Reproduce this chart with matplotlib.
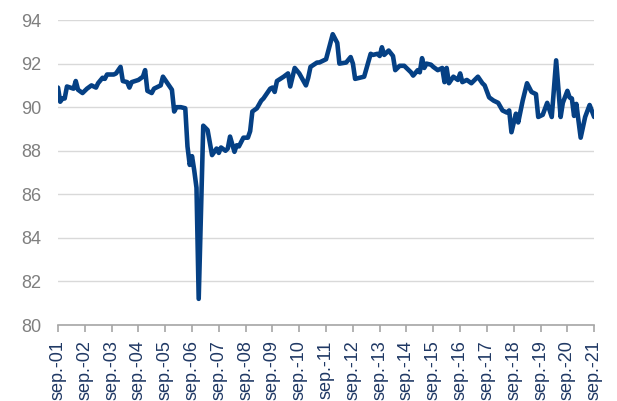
import pandas as pd
import numpy as np
import matplotlib
matplotlib.use("Agg")
import matplotlib.pyplot as plt
import matplotlib.dates as mdates

# months after sep-2001 and the value read at that month
months = [0, 1, 2, 3, 4, 7, 8, 9, 11, 13, 15, 17, 18, 20, 21, 22, 25, 26, 28,
          29, 31, 32, 33, 36, 38, 39, 40, 42, 43, 46, 47, 49, 51, 52, 53, 55,
          57, 58, 59, 60, 61, 62, 63, 65, 67, 69, 71, 72, 73, 75, 76, 77, 79,
          80, 81, 83, 85, 86, 87, 89, 91, 92, 94, 95, 96, 97, 98, 101, 103,
          104, 106, 108, 111, 112, 113, 116, 117, 120, 123, 125, 126, 129,
          131, 132, 133, 135, 137, 140, 141, 143, 144, 145, 146, 148, 150,
          151, 153, 155, 158, 159, 161, 162, 163, 164, 165, 167, 168, 170,
          172, 173, 174, 175, 177, 179, 180, 181, 183, 185, 188, 190, 191,
          193, 195, 197, 199, 201, 202, 203, 205, 206, 208, 210, 212, 214,
          215, 217, 219, 221, 223, 225, 226, 228, 229, 230, 231, 232, 234,
          236, 238, 240]
values = [90.9, 90.25, 90.4, 90.4, 90.95, 90.85, 91.2, 90.8, 90.65, 90.85,
          91.0, 90.9, 91.1, 91.35, 91.3, 91.5, 91.5, 91.55, 91.85, 91.2,
          91.15, 90.9, 91.15, 91.25, 91.4, 91.7, 90.75, 90.65, 90.85, 91.0,
          91.4, 91.1, 90.8, 89.8, 90.0, 90.0, 89.95, 88.2, 87.35, 87.75,
          87.1, 86.3, 81.2, 89.15, 88.95, 87.8, 88.1, 87.9, 88.15, 88.0,
          88.1, 88.65, 87.95, 88.25, 88.2, 88.6, 88.6, 88.9, 89.8, 89.95,
          90.3, 90.4, 90.7, 90.85, 90.9, 90.7, 91.2, 91.4, 91.55, 90.95,
          91.8, 91.55, 91.0, 91.35, 91.85, 92.05, 92.05, 92.2, 93.35, 92.95,
          92.0, 92.05, 92.3, 92.0, 91.3, 91.35, 91.4, 92.45, 92.4, 92.45,
          92.35, 92.75, 92.4, 92.6, 92.35, 91.7, 91.9, 91.9, 91.6, 91.45,
          91.7, 91.6, 92.25, 91.8, 92.0, 91.95, 91.85, 91.7, 91.8, 91.15,
          91.8, 91.1, 91.4, 91.25, 91.55, 91.15, 91.25, 91.1, 91.4, 91.1,
          91.0, 90.45, 90.3, 90.2, 89.85, 89.75, 89.85, 88.85, 89.7, 89.3,
          90.3, 91.1, 90.7, 90.6, 89.55, 89.65, 90.2, 89.55, 92.15, 89.55,
          90.2, 90.75, 90.45, 90.4, 89.6, 90.15, 88.6, 89.55, 90.1, 89.55]

start = pd.Timestamp("2001-09-01")
dates = [start + pd.DateOffset(months=m) for m in months]
years = list(range(2001, 2022))
tick_dates = [pd.Timestamp(f"{y}-09-01") for y in years]
tick_labels = [f"sep.-{y % 100:02d}" for y in years]
yticks = [80, 82, 84, 86, 88, 90, 92, 94]

plt.rcParams['font.family'] = ['Liberation Sans', 'DejaVu Sans']

fig = plt.figure(figsize=(6.17, 4.01), dpi=100)
ax = fig.add_axes([0.094, 0.1895, 0.869, 0.7605])

ax.plot(dates, values, color='#054084', lw=3.3, solid_joinstyle='round',
        solid_capstyle='round', zorder=3)

ax.set_ylim(80, 94)
ax.set_yticks(yticks)
ax.set_yticklabels([str(v) for v in yticks])
ax.set_xlim(tick_dates[0], tick_dates[-1])
ax.set_xticks(tick_dates)
ax.set_xticklabels(tick_labels, rotation=90)

ax.grid(axis='y', color='#d9d9d9', lw=1.0)
ax.set_axisbelow(True)
for s in ['top', 'right', 'left']:
    ax.spines[s].set_visible(False)
ax.spines['bottom'].set_color('#a6a6a6')
ax.spines['bottom'].set_linewidth(1.2)
ax.tick_params(axis='y', length=0, pad=12, labelsize=13, labelcolor='#7f7f7f')
ax.tick_params(axis='x', length=5, width=1.2, color='#a6a6a6', pad=6,
               labelsize=13, labelcolor='#1f3864')

fig.savefig("out.png", dpi=100)
